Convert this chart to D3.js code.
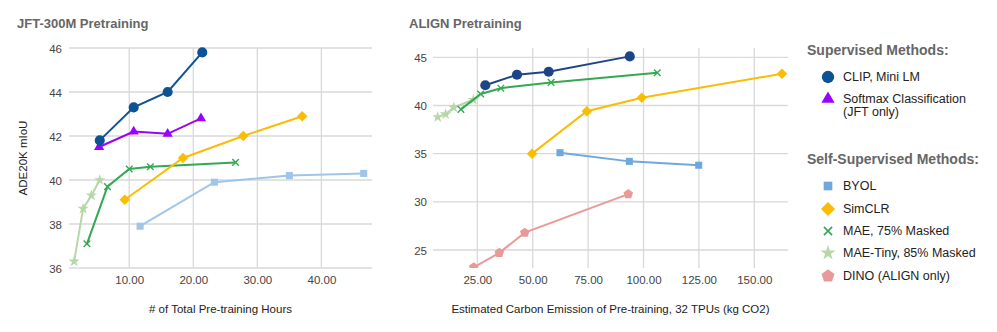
<!DOCTYPE html>
<html><head><meta charset="utf-8">
<script src="https://cdn.jsdelivr.net/npm/d3@7"></script>
<style>
body{margin:0;background:#fff;}
svg{display:block;font-family:"Liberation Sans",Arial,sans-serif;}
</style></head>
<body><svg id="c" width="997" height="332"></svg>
<script>
// ---------- DATA ----------
// JFT-300M (x = total pre-training hours, y = ADE20K mIoU)
const jftClipX = [5.4, 10.7, 16.0, 21.4];
const jftClipY = [41.8, 43.3, 44.0, 45.8];
const jftSoftmaxX = [5.3, 10.7, 16.0, 21.2];
const jftSoftmaxY = [41.5, 42.2, 42.1, 42.8];
const jftSimclrX = [9.3, 18.4, 27.8, 37.0];
const jftSimclrY = [39.1, 41.0, 42.0, 42.9];
const jftMaeX = [3.4, 6.6, 10.0, 13.3, 26.6];
const jftMaeY = [37.1, 39.7, 40.5, 40.6, 40.8];
const jftTinyX = [1.4, 2.8, 4.1, 5.4];
const jftTinyY = [36.3, 38.7, 39.3, 40.0];
const jftByolX = [11.7, 23.3, 35.0, 46.6];
const jftByolY = [37.9, 39.9, 40.2, 40.3];
// ALIGN (x = kg CO2, y = ADE20K mIoU)
const alignClipX = [28.6, 42.9, 57.2, 93.8];
const alignClipY = [42.1, 43.2, 43.5, 45.1];
const alignSimclrX = [49.7, 74.4, 99.2, 162.5];
const alignSimclrY = [35.0, 39.4, 40.8, 43.3];
const alignMaeX = [17.6, 26.5, 35.6, 58.3, 106.2];
const alignMaeY = [39.6, 41.2, 41.8, 42.4, 43.4];
const alignTinyX = [7.1, 10.7, 14.4, 23.2];
const alignTinyY = [38.8, 39.1, 39.8, 40.6];
const alignByolX = [62.3, 93.6, 124.9];
const alignByolY = [35.1, 34.2, 33.8];
const alignDinoX = [23.4, 34.9, 46.4, 93.1];
const alignDinoY = [23.2, 24.7, 26.8, 30.8];
// ticks
const jftXTicks = [10, 20, 30, 40];
const jftYTicks = [36, 38, 40, 42, 44, 46];
const alignXTicks = [25, 50, 75, 100, 125, 150];
const alignYTicks = [25, 30, 35, 40, 45];
// legend
const supLegend = ["CLIP, Mini LM", "Softmax Classification|(JFT only)"];
const selfLegend = ["BYOL", "SimCLR", "MAE, 75% Masked", "MAE-Tiny, 85% Masked", "DINO (ALIGN only)"];

// ---------- STYLE ----------
const C = {
  clip: "#0b5394", clip2: "#1c4587", softmax: "#9900ff", simclr: "#fbbc04",
  mae: "#34a853", tiny: "#b6d7a8", byol: "#9fc5e8", byol2: "#6fa8dc", dino: "#ea9999"
};
const svg = d3.select("#c");
const zip = (xs, ys) => xs.map((x, i) => ({x, y: ys[i]}));

const pentagon = {
  draw(ctx, size) {
    const r = Math.sqrt(size / 2.378);
    for (let i = 0; i < 5; i++) {
      const a = -Math.PI / 2 + i * 2 * Math.PI / 5;
      const px = r * Math.cos(a), py = r * Math.sin(a);
      if (i === 0) ctx.moveTo(px, py); else ctx.lineTo(px, py);
    }
    ctx.closePath();
  }
};
const rhombus = {
  draw(ctx, size) {
    const r = Math.sqrt(size / 2);
    ctx.moveTo(0, -r); ctx.lineTo(r, 0); ctx.lineTo(0, r); ctx.lineTo(-r, 0); ctx.closePath();
  }
};

function markerPath(kind, size) {
  const t = {circle: d3.symbolCircle, triangle: d3.symbolTriangle, square: d3.symbolSquare,
    diamond: rhombus, x: d3.symbolTimes, star: d3.symbolStar, pentagon: pentagon}[kind];
  return d3.symbol().type(t).size(size)();
}

function panel(opt) {
  const g = svg.append("g");
  const x = d3.scaleLinear().domain(opt.xDomain).range([opt.left, opt.right]);
  const y = d3.scaleLinear().domain(opt.yDomain).range([opt.bottom, opt.top]);
  const id = "clip" + opt.name;
  svg.append("defs").append("clipPath").attr("id", id).append("rect")
    .attr("x", opt.left).attr("y", opt.top - 6).attr("width", opt.right - opt.left + 6)
    .attr("height", opt.bottom - opt.top + 6);

  // grid
  g.append("g").selectAll("line").data(opt.yTicks).join("line")
    .attr("x1", opt.left).attr("x2", opt.right).attr("y1", d => y(d)).attr("y2", d => y(d))
    .attr("stroke", "#d9d9d9").attr("stroke-width", 1.3);
  g.append("g").selectAll("line").data(opt.xTicks).join("line")
    .attr("y1", opt.top).attr("y2", opt.bottom).attr("x1", d => x(d)).attr("x2", d => x(d))
    .attr("stroke", "#d9d9d9").attr("stroke-width", 1.3);

  // axes (labels only)
  const ya = d3.axisLeft(y).tickValues(opt.yTicks).tickSize(0).tickPadding(0).tickFormat(d3.format("d"));
  const yg = g.append("g").attr("transform", `translate(${opt.yLabelX},0)`).call(ya);
  const xa = d3.axisBottom(x).tickValues(opt.xTicks).tickSize(0).tickPadding(0).tickFormat(d3.format(".2f"));
  const xg = g.append("g").attr("transform", `translate(0,${opt.xLabelY})`).call(xa);
  [yg, xg].forEach(a => {
    a.select(".domain").remove();
    a.selectAll("text").attr("fill", "#444").style("font-size", "11.5px")
      .style("font-family", "'Liberation Sans', Arial, sans-serif");
  });
  yg.selectAll("text").attr("dy", "0.35em");
  xg.selectAll("text").attr("dy", "0.35em");

  // title
  g.append("text").attr("x", opt.titleX).attr("y", 28).text(opt.title)
    .attr("fill", "#666").style("font-weight", "bold").style("font-size", "13px");
  // axis titles
  g.append("text").attr("x", (opt.left + opt.right) / 2).attr("y", 313).attr("text-anchor", "middle")
    .text(opt.xTitle).attr("fill", "#222").style("font-size", "11.5px");
  if (opt.yTitle) {
    g.append("text").attr("transform", `translate(27,${(opt.top + opt.bottom) / 2}) rotate(-90)`)
      .attr("text-anchor", "middle").text(opt.yTitle).attr("fill", "#222").style("font-size", "11.5px");
  }

  const line = d3.line().x(d => x(d.x)).y(d => y(d.y));
  const marks = g.append("g").attr("clip-path", `url(#${id})`);
  opt.series.forEach(s => {
    const pts = zip(s.xs, s.ys);
    marks.append("path").attr("d", line(pts)).attr("fill", "none").attr("stroke", s.color)
      .attr("stroke-width", 2);
    marks.append("g").selectAll("path").data(pts).join("path")
      .attr("transform", d => `translate(${x(d.x)},${y(d.y)})`)
      .attr("d", markerPath(s.shape, s.size))
      .attr("fill", s.shape === "x" ? "none" : s.color)
      .attr("stroke", s.shape === "x" ? s.color : "none")
      .attr("stroke-width", s.shape === "x" ? 1.4 : 0);
  });
}

panel({
  name: "jft", title: "JFT-300M Pretraining", titleX: 17,
  left: 69, right: 372, top: 48, bottom: 268,
  xDomain: [0.6, 47.9], yDomain: [36, 46],
  xTicks: jftXTicks, yTicks: jftYTicks, yLabelX: 62, xLabelY: 280,
  xTitle: "# of Total Pre-training Hours", yTitle: "ADE20K mIoU",
  series: [
    {xs: jftByolX, ys: jftByolY, color: C.byol, shape: "square", size: 50},
    {xs: jftTinyX, ys: jftTinyY, color: C.tiny, shape: "star", size: 40},
    {xs: jftMaeX, ys: jftMaeY, color: C.mae, shape: "x", size: 30},
    {xs: jftSimclrX, ys: jftSimclrY, color: C.simclr, shape: "diamond", size: 55},
    {xs: jftSoftmaxX, ys: jftSoftmaxY, color: C.softmax, shape: "triangle", size: 45},
    {xs: jftClipX, ys: jftClipY, color: C.clip, shape: "circle", size: 80}
  ]
});

panel({
  name: "align", title: "ALIGN Pretraining", titleX: 409,
  left: 433, right: 788, top: 48, bottom: 268,
  xDomain: [5.0, 165.2], yDomain: [23.13, 45.97],
  xTicks: alignXTicks, yTicks: alignYTicks, yLabelX: 427, xLabelY: 280,
  xTitle: "Estimated Carbon Emission of Pre-training, 32 TPUs (kg CO2)", yTitle: null,
  series: [
    {xs: alignDinoX, ys: alignDinoY, color: C.dino, shape: "pentagon", size: 60},
    {xs: alignByolX, ys: alignByolY, color: C.byol2, shape: "square", size: 50},
    {xs: alignTinyX, ys: alignTinyY, color: C.tiny, shape: "star", size: 40},
    {xs: alignMaeX, ys: alignMaeY, color: C.mae, shape: "x", size: 30},
    {xs: alignSimclrX, ys: alignSimclrY, color: C.simclr, shape: "diamond", size: 55},
    {xs: alignClipX, ys: alignClipY, color: C.clip2, shape: "circle", size: 80}
  ]
});

// ---------- LEGEND ----------
const lg = svg.append("g");
lg.append("text").attr("x", 807).attr("y", 55).text("Supervised Methods:")
  .attr("fill", "#666").style("font-weight", "bold").style("font-size", "14px");
lg.append("text").attr("x", 807).attr("y", 164).text("Self-Supervised Methods:")
  .attr("fill", "#666").style("font-weight", "bold").style("font-size", "14px");

const supItems = [
  {label: supLegend[0], y: 77, color: C.clip, shape: "circle", size: 120},
  {label: supLegend[1], y: 99, color: C.softmax, shape: "triangle", size: 75}
];
const selfItems = [
  {label: selfLegend[0], y: 186, color: C.byol2, shape: "square", size: 75},
  {label: selfLegend[1], y: 209, color: C.simclr, shape: "diamond", size: 100},
  {label: selfLegend[2], y: 231, color: C.mae, shape: "x", size: 45},
  {label: selfLegend[3], y: 253, color: C.tiny, shape: "star", size: 70},
  {label: selfLegend[4], y: 276, color: C.dino, shape: "pentagon", size: 110}
];
supItems.concat(selfItems).forEach(it => {
  lg.append("path").attr("transform", `translate(828,${it.y})`)
    .attr("d", markerPath(it.shape, it.size))
    .attr("fill", it.shape === "x" ? "none" : it.color)
    .attr("stroke", it.shape === "x" ? it.color : "none").attr("stroke-width", 1.6);
  const parts = it.label.split("|");
  parts.forEach((p, i) => {
    lg.append("text").attr("x", 843).attr("y", it.y + i * 13).attr("dy", "0.35em").text(p)
      .attr("fill", "#222").style("font-size", "12.5px");
  });
});
</script></body></html>
